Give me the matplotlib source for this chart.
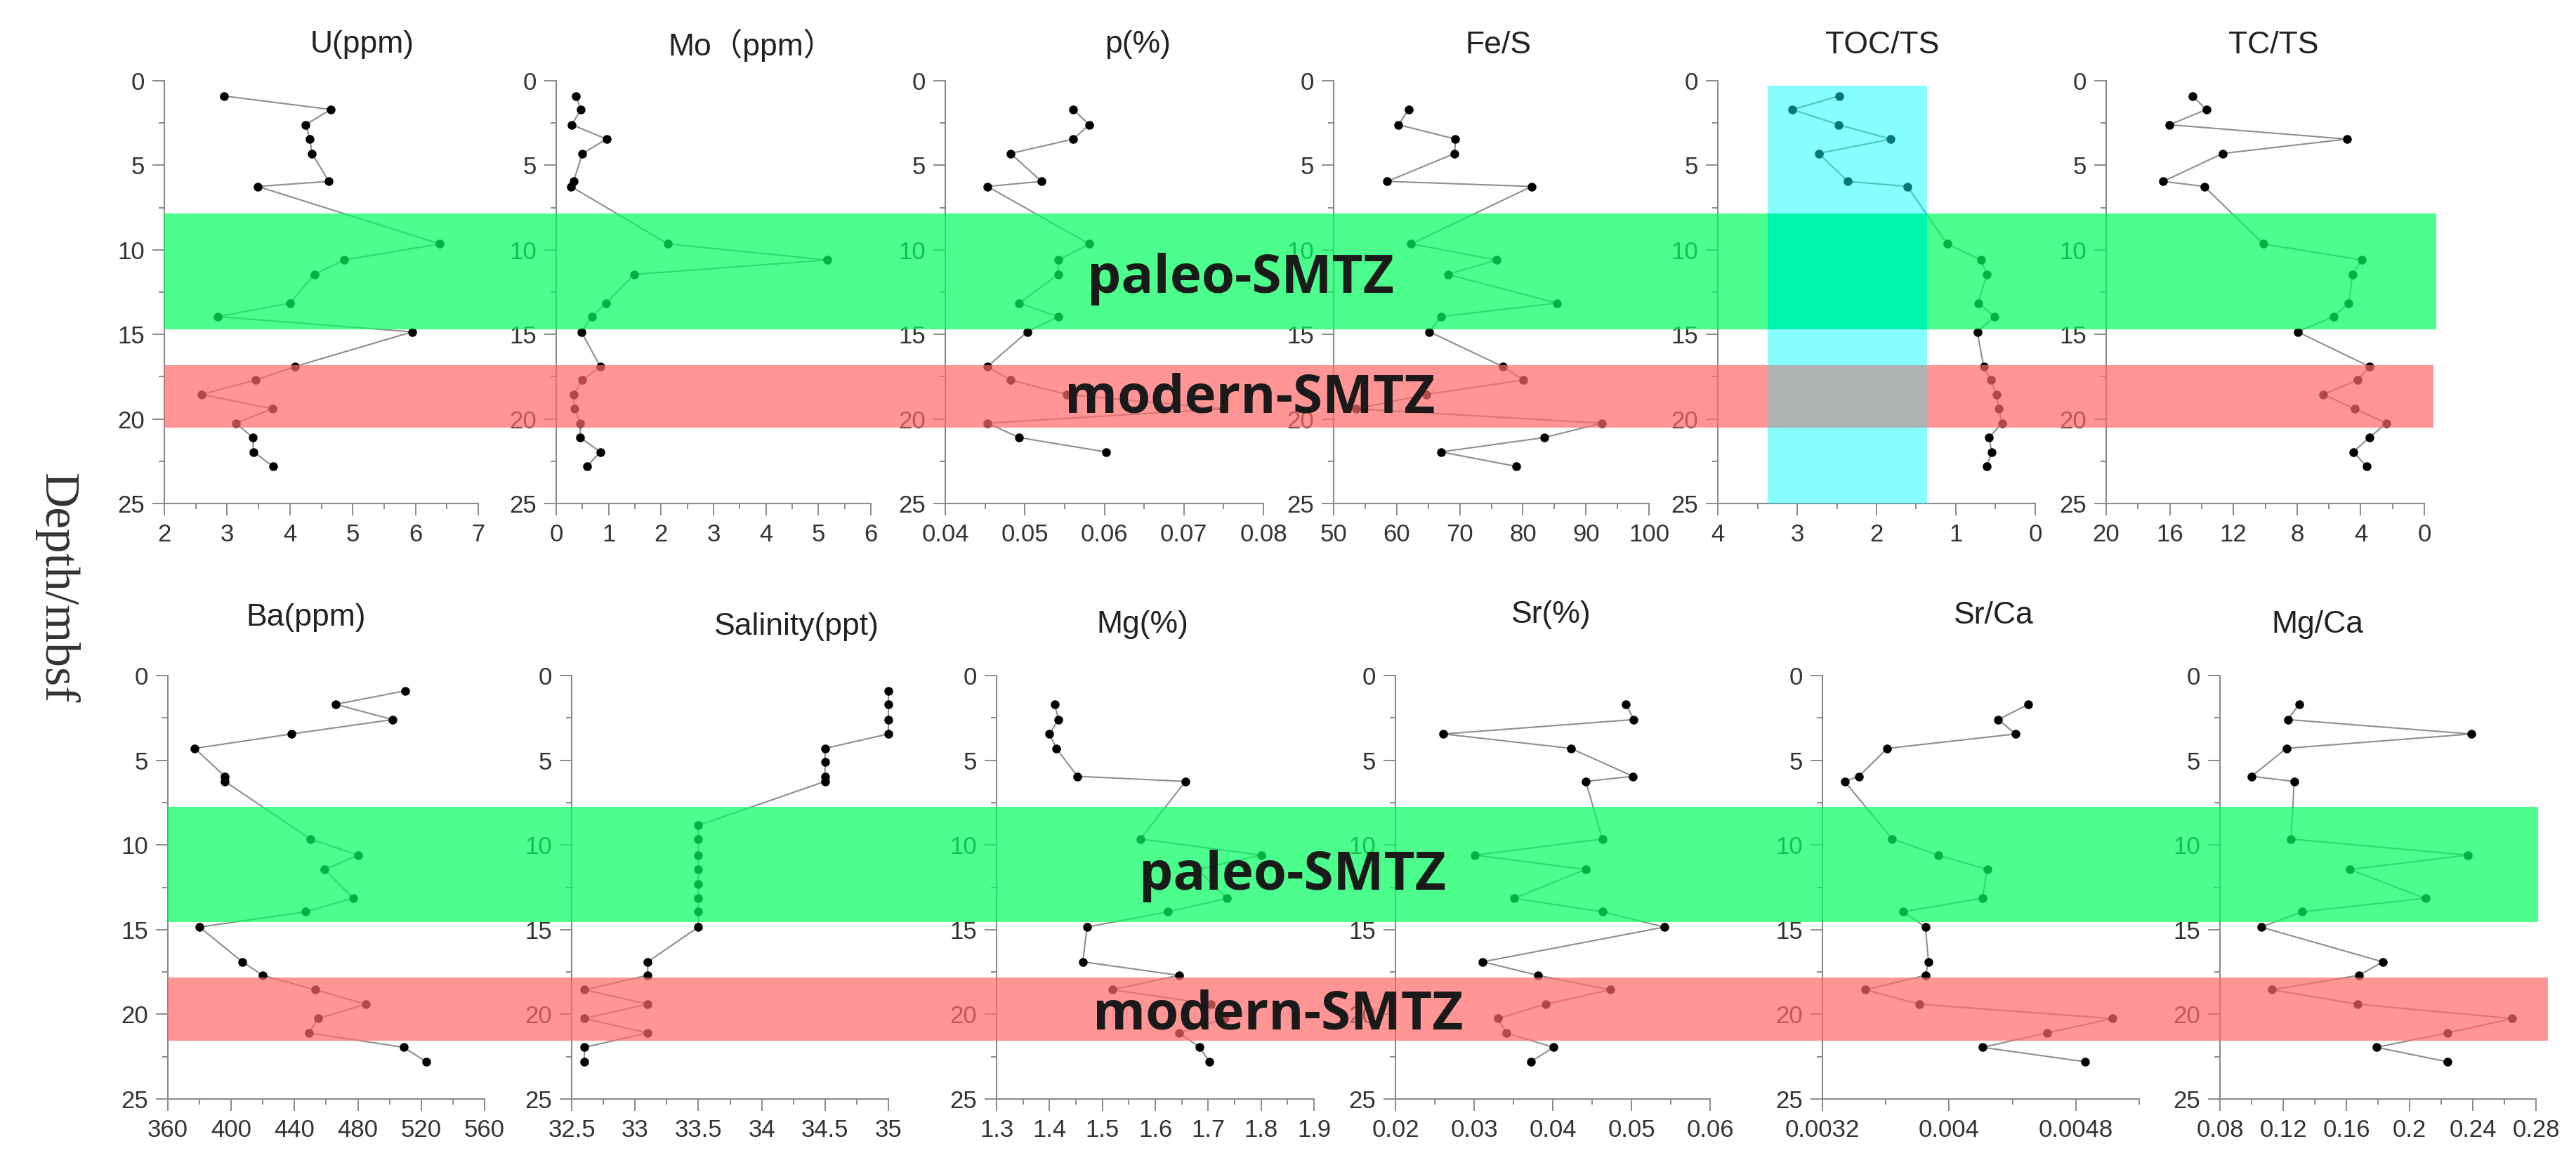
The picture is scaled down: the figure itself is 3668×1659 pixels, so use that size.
import numpy as np
import matplotlib.pyplot as plt
from matplotlib.patches import Rectangle
from matplotlib.ticker import MultipleLocator, FuncFormatter
from matplotlib.transforms import blended_transform_factory

nan = np.nan

# sample depths (mbsf)
depth = [0.9, 1.7, 2.6, 3.45, 4.3, 5.95, 6.25, 9.65, 10.6, 11.45, 13.15,
         13.95, 14.85, 16.9, 17.7, 18.55, 19.4, 20.25, 21.1, 21.95, 22.8]
sal_depth = [0.9, 1.7, 2.6, 3.45, 4.3, 5.1, 5.95, 6.25, 8.85, 9.65, 10.6, 11.45,
             12.3, 13.15, 13.95, 14.85, 16.9, 17.7, 18.55, 19.4, 20.25, 21.1, 21.95, 22.8]

# top row
U = [2.95, 4.65, 4.25, 4.32, 4.35, 4.62, 3.49, 6.39, 4.86, 4.39, 4.0,
     2.85, 5.95, 4.08, 3.45, 2.59, 3.72, 3.14, 3.41, 3.42, 3.73]
Mo = [0.37, 0.47, 0.30, 0.96, 0.50, 0.33, 0.28, 2.13, 5.17, 1.49, 0.95,
      0.68, 0.48, 0.84, 0.50, 0.33, 0.35, 0.46, 0.46, 0.84, 0.59]
P = [nan, 0.0561, 0.0581, 0.0561, 0.0482, 0.0521, 0.0453, 0.0581, 0.0542, 0.0542, 0.0493,
     0.0542, 0.0503, 0.0453, 0.0482, 0.0553, 0.0750, 0.0453, 0.0493, 0.0602, nan]
FeS = [nan, 61.9, 60.3, 69.3, 69.2, 58.5, 81.4, 62.3, 75.8, 68.1, 85.4,
       67.0, 65.2, 76.8, 80.1, 64.7, 53.6, 92.5, 83.4, 67.0, 78.9]
TOC_TS = [2.47, 3.06, 2.48, 1.82, 2.73, 2.36, 1.61, 1.11, 0.68, 0.61, 0.72,
          0.51, 0.73, 0.65, 0.56, 0.49, 0.46, 0.42, 0.58, 0.55, 0.61]
TC_TS = [14.58, 13.70, 16.02, 4.86, 12.68, 16.41, 13.84, 10.11, 3.94, 4.51, 4.75,
         5.70, 7.96, 3.45, 4.19, 6.37, 4.37, 2.39, 3.45, 4.47, 3.63]

# bottom row
Ba = [510, 466, 502, 438, 377, 396, 396, 450, 480, 459, 477,
      447, 380, 407, 420, 453, 485, 455, 449, 509, 523]
Salinity = [35, 35, 35, 35, 34.5, 34.5, 34.5, 34.5, 33.5, 33.5, 33.5, 33.5,
            33.5, 33.5, 33.5, 33.5, 33.1, 33.1, 32.6, 33.1, 32.6, 33.1, 32.6, 32.6]
Mg = [nan, 1.41, 1.417, 1.40, 1.413, 1.453, 1.657, 1.572, 1.80, 1.68, 1.736,
      1.624, 1.471, 1.463, 1.645, 1.519, 1.705, 1.731, 1.645, 1.684, 1.702]
Sr = [nan, 0.0493, 0.0503, 0.0261, 0.0423, 0.0502, 0.0442, 0.0463, 0.0301, 0.0442, 0.0351,
      0.0463, 0.0542, 0.0311, 0.0381, 0.0473, 0.0391, 0.0330, 0.0341, 0.0401, 0.0372]
SrCa = [nan, 0.00450, 0.00431, 0.00442, 0.00361, 0.00343, 0.00334, 0.00364, 0.00393, 0.00424,
        0.00421, 0.00371, 0.00385, 0.00387, 0.00385, 0.00347, 0.00381, 0.00503, 0.00462,
        0.00421, 0.00486]
MgCa = [nan, 0.130, 0.123, 0.239, 0.122, 0.100, 0.127, 0.125, 0.237, 0.162, 0.210,
        0.132, 0.106, 0.183, 0.168, 0.113, 0.167, 0.265, 0.224, 0.179, 0.224]

# SMTZ intervals (depth) per row, and TOC/TS highlight range
top_paleo = (7.85, 14.7)
top_modern = (16.8, 20.53)
bot_paleo = (7.75, 14.55)
bot_modern = (17.83, 21.56)
toc_box = (3.37, 1.36, 0.3, 25)

W, H = 3668, 1659
fig = plt.figure(figsize=(W / 100, H / 100), dpi=100)
plt.rcParams['font.family'] = ['Liberation Sans', 'DejaVu Sans']

fmt = FuncFormatter(lambda v, _: f'{round(v, 6):g}')


def panel(x0, x1, y0, y1, dep, vals, xlim, major, minor):
    ax = fig.add_axes([x0 / W, 1 - y1 / H, (x1 - x0) / W, (y1 - y0) / H])
    ax.set_facecolor('none')
    ax.plot(vals, dep, '-', color='#8e8e8e', lw=1.5, marker='o', ms=8,
            mfc='black', mec='black', clip_on=False)
    ax.set_xlim(*xlim)
    ax.set_ylim(25, 0)
    for s in ['top', 'right']:
        ax.spines[s].set_visible(False)
    for s in ['left', 'bottom']:
        ax.spines[s].set_color('#8a8a8a')
        ax.spines[s].set_linewidth(1.5)
    ax.xaxis.set_major_locator(MultipleLocator(major))
    ax.xaxis.set_minor_locator(MultipleLocator(minor))
    ax.xaxis.set_major_formatter(fmt)
    ax.yaxis.set_major_locator(MultipleLocator(5))
    ax.yaxis.set_minor_locator(MultipleLocator(2.5))
    ax.tick_params(which='major', length=12, width=1.4, color='#8a8a8a',
                   labelsize=25, labelcolor='#333333', pad=8)
    ax.tick_params(which='minor', length=6, width=1.4, color='#8a8a8a')
    return ax


ty0, ty1 = 115, 717
by0, by1 = 962, 1565

ax_u = panel(234, 681, ty0, ty1, depth, U, (2, 7), 1, 0.5)
panel(792, 1240, ty0, ty1, depth, Mo, (0, 6), 1, 0.5)
panel(1346, 1799, ty0, ty1, depth, P, (0.04, 0.08), 0.01, 0.005)
panel(1899, 2348, ty0, ty1, depth, FeS, (50, 100), 10, 5)
ax_toc = panel(2446, 2898, ty0, ty1, depth, TOC_TS, (4, 0), 1, 0.5)
panel(2999, 3452, ty0, ty1, depth, TC_TS, (20, 0), 4, 2)

ax_ba = panel(239, 690, by0, by1, depth, Ba, (360, 560), 40, 20)
panel(814, 1265, by0, by1, sal_depth, Salinity, (32.5, 35), 0.5, 0.25)
panel(1419, 1871, by0, by1, depth, Mg, (1.3, 1.9), 0.1, 0.05)
panel(1987, 2435, by0, by1, depth, Sr, (0.02, 0.06), 0.01, 0.005)
ax_srca = panel(2595, 3046, by0, by1, depth, SrCa, (0.0032, 0.0052), 0.0008, 0.0004)
panel(3161, 3611, by0, by1, depth, MgCa, (0.08, 0.28), 0.04, 0.02)

# overlay for translucent intervals
ov = fig.add_axes([0, 0, 1, 1], zorder=10)
ov.set_axis_off()
ov.set_xlim(0, 1)
ov.set_ylim(0, 1)

green, red, cyan = '#00FF5B', '#FF6969', '#00FFFF'

lo_x, hi_x, lo_d, hi_d = toc_box
ov.add_patch(Rectangle((lo_x, lo_d), hi_x - lo_x, hi_d - lo_d, transform=ax_toc.transData,
                       facecolor=cyan, alpha=0.47, lw=0))


def band(ax_ref, x0, x1, rng, color):
    tr = blended_transform_factory(fig.transFigure, ax_ref.transData)
    ov.add_patch(Rectangle((x0 / W, rng[0]), (x1 - x0) / W, rng[1] - rng[0],
                           transform=tr, facecolor=color, alpha=0.7, lw=0))


band(ax_u, 234, 3469, top_paleo, green)
band(ax_u, 234, 3465, top_modern, red)
band(ax_ba, 239, 3614, bot_paleo, green)
band(ax_ba, 239, 3628, bot_modern, red)

# where the TOC/TS box overlaps the intervals
ov.add_patch(Rectangle((lo_x, top_paleo[0]), hi_x - lo_x, top_paleo[1] - top_paleo[0],
                       transform=ax_toc.transData, facecolor='#00F6AA', lw=0, zorder=3))
ov.add_patch(Rectangle((lo_x, top_modern[0]), hi_x - lo_x, top_modern[1] - top_modern[0],
                       transform=ax_toc.transData, facecolor='#AEB3B3', lw=0, zorder=3))

# titles
top_titles = ['U(ppm)', 'Mo（ppm）', 'p(%)', 'Fe/S', 'TOC/TS', 'TC/TS']
top_tx = [516, 1070, 1620, 2133, 2680, 3237]
bot_titles = ['Ba(ppm)', 'Salinity(ppt)', 'Mg(%)', 'Sr(%)', 'Sr/Ca', 'Mg/Ca']
bot_tx = [436, 1134, 1627, 2209, 2839, 3300]
bot_ty = [880, 892, 889, 875, 876, 890]
for t, x in zip(top_titles, top_tx):
    fig.text(x / W, 1 - 64 / H, t, ha='center', va='center', fontsize=32, color='#222222',
             family=['Liberation Sans', 'Noto Sans CJK SC'])
for t, x, y in zip(bot_titles, bot_tx, bot_ty):
    fig.text(x / W, 1 - y / H, t, ha='center', va='center', fontsize=32, color='#222222')

fig.text(80 / W, 1 - 838 / H, 'Depth/mbsf', rotation=270, ha='center', va='center',
         family='Liberation Serif', fontsize=50, color='#333333')

labels = [('paleo-SMTZ', 1766, 417), ('modern-SMTZ', 1780, 587),
          ('paleo-SMTZ', 1841, 1267), ('modern-SMTZ', 1820, 1465)]
for t, x, y in labels:
    fig.text(x / W, 1 - y / H, t, ha='center', va='baseline', fontsize=55,
             fontweight='bold', family='Open Sans', color='#1a1a1a', zorder=20)

fig.savefig('out.png', dpi=100, facecolor='white')
